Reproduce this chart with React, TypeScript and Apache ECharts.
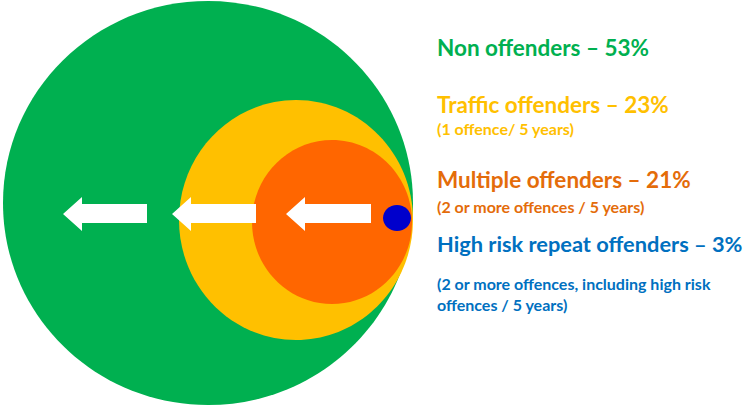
import React, { useEffect, useRef } from "react";
import * as echarts from "echarts";

const groups = ["Non offenders", "Traffic offenders", "Multiple offenders", "High risk repeat offenders"];
const shares = [53, 23, 21, 3];
const notes = [
  [] as string[],
  ["(1 offence/ 5 years)"],
  ["(2 or more offences / 5 years)"],
  ["(2 or more offences, including high risk", "offences / 5 years)"],
];

const textColors = ["#00B050", "#FFC000", "#E46C0A", "#0070C0"];
const fillColors = ["#00B050", "#FFC000", "#FF6600", "#0000CC"];

// layout (pixels)
const circles = [
  { cx: 208, cy: 203, rx: 205, ry: 202 },
  { cx: 296, cy: 220, rx: 117, ry: 120 },
  { cx: 332, cy: 222, rx: 80, ry: 82 },
  { cx: 397, cy: 218, rx: 14, ry: 13 },
];
const arrows = [
  { tip: 63, back: 82, end: 147 },
  { tip: 172, back: 191, end: 256 },
  { tip: 286, back: 305, end: 371 },
];
const titleY = [47, 104, 179, 243];
const titleSize = [22.5, 22.5, 22.5, 21.8];
const noteY = [[], [128], [206], [283, 304]];

function arrowPoints(a: { tip: number; back: number; end: number }) {
  const cy = 214;
  return [
    [a.tip, cy],
    [a.back, cy - 17],
    [a.back, cy - 10],
    [a.end, cy - 10],
    [a.end, cy + 9],
    [a.back, cy + 9],
    [a.back, cy + 17],
  ];
}

export default function App() {
  const ref = useRef<HTMLDivElement>(null);
  useEffect(() => {
    if (!ref.current) return;
    const chart = echarts.init(ref.current, null, { renderer: "svg" });
    const font = "Lato, 'Open Sans', sans-serif";
    const graphic: any[] = [];
    circles.forEach((c, i) => {
      graphic.push({
        type: "ellipse",
        shape: { cx: c.cx, cy: c.cy, rx: c.rx, ry: c.ry },
        style: { fill: fillColors[i] },
        z: 10 + i,
      });
    });
    arrows.forEach((a) => {
      graphic.push({
        type: "polygon",
        shape: { points: arrowPoints(a) },
        style: { fill: "#FFFFFF" },
        z: 20,
      });
    });
    groups.forEach((g, i) => {
      graphic.push({
        type: "text",
        x: 437,
        y: titleY[i],
        style: {
          text: `${g} – ${shares[i]}%`,
          fill: textColors[i],
          font: `bold ${titleSize[i]}px ${font}`,
          verticalAlign: "middle",
          align: "left",
        },
        z: 30,
      });
      notes[i].forEach((n, j) => {
        graphic.push({
          type: "text",
          x: 437,
          y: noteY[i][j],
          style: {
            text: n,
            fill: textColors[i],
            font: `bold 16px ${font}`,
            verticalAlign: "middle",
            align: "left",
          },
          z: 30,
        });
      });
    });
    chart.setOption({
      animation: false,
      backgroundColor: "#FFFFFF",
      graphic,
    });
    return () => chart.dispose();
  }, []);
  return <div ref={ref} style={{ width: 748, height: 405, position: "absolute", left: 0, top: 0 }} />;
}
